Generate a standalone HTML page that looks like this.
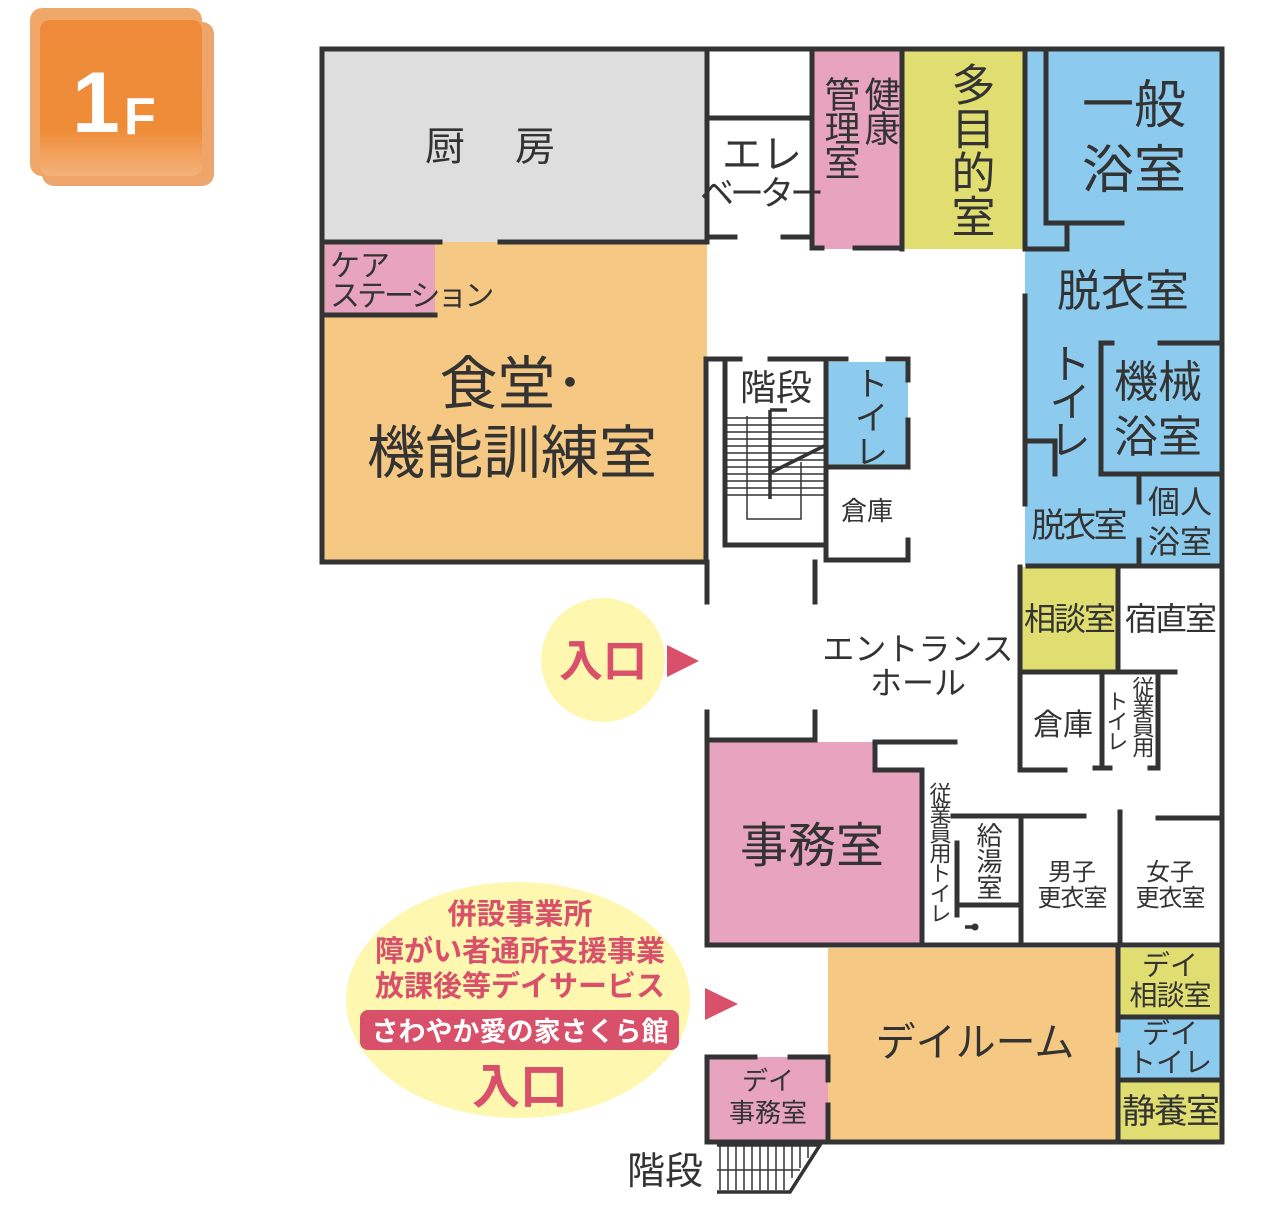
<!DOCTYPE html>
<html><head><meta charset="utf-8"><style>
html,body{margin:0;padding:0;background:#fff;}
svg{display:block;}
text{font-family:"Liberation Sans","Noto Sans CJK JP",sans-serif;fill:#333;}
.v{writing-mode:vertical-rl;}
</style></head><body>
<svg width="1268" height="1232" viewBox="0 0 1268 1232" xmlns="http://www.w3.org/2000/svg">
<defs>
<linearGradient id="og" x1="0" y1="0" x2="0" y2="1">
<stop offset="0" stop-color="#ee8a3a"/><stop offset="0.7" stop-color="#ef8c38"/><stop offset="1" stop-color="#f3b27a"/>
</linearGradient>
</defs>
<rect x="30" y="8" width="172" height="168" rx="12" fill="#f0a868"/>
<rect x="42" y="22" width="172" height="164" rx="12" fill="#eea56a"/>
<rect x="40" y="20" width="162" height="156" rx="10" fill="url(#og)"/>
<text x="72" y="132" font-size="86" font-weight="bold" style="fill:#fff">1</text>
<text x="124" y="134" font-size="52" font-weight="bold" style="fill:#fff">F</text>

<rect x="322" y="49" width="385" height="193" fill="#dedede"/>
<rect x="322" y="242" width="385" height="320" fill="#f5c983"/>
<rect x="325" y="244" width="110" height="71" fill="#e8a3bf"/>
<rect x="812" y="49" width="90" height="200" fill="#e8a3bf"/>
<rect x="902" y="49" width="123" height="200" fill="#e0de70"/>
<rect x="1025" y="49" width="197" height="517" fill="#8ccbee"/>
<rect x="826" y="362" width="82" height="105" fill="#8ccbee"/>
<rect x="1020" y="567" width="98" height="105" fill="#e0de70"/>
<rect x="707" y="742" width="168" height="203" fill="#e8a3bf"/>
<rect x="875" y="770" width="48" height="175" fill="#e8a3bf"/>
<rect x="828" y="948" width="290" height="194" fill="#f5c983"/>
<rect x="707" y="1057" width="121" height="85" fill="#e8a3bf"/>
<rect x="1118" y="948" width="104" height="69" fill="#e0de70"/>
<rect x="1118" y="1017" width="104" height="63" fill="#8ccbee"/>
<rect x="1118" y="1080" width="104" height="62" fill="#e0de70"/>

<g stroke="#333" stroke-width="5" fill="none" stroke-linecap="square">
<path d="M322 49 H1222 V1142 H707"/>
<path d="M322 49 V562 H707"/>
<path d="M707 49 V242"/>
<path d="M325 242 H440 M500 242 H707"/>
<path d="M325 315 H435"/>
<path d="M707 118 H812 M707 237 H735 M783 237 H812 M812 49 V246 M812 248 H822 M855 248 H902 M902 49 V249"/>
<path d="M1025 49 V249 M1046 49 V223 H1122 M1067 223 V249 H1025"/>
<path d="M1025 296 V504 M1101 343 V474 H1222 M1101 343 H1112 M1160 343 H1222 M1025 441 H1055 V474"/>
<path d="M1139 474 V502 M1139 540 V566 M1028 566 H1222"/>
<path d="M706 359 V562 M706 359 H740 M770 359 H846 M888 359 H908 V380 M908 420 V467 M826 359 V560 M826 467 H908 M908 540 V560 H826"/>
<path d="M725 359 V545 H826"/>
<path d="M707 562 V602 M815 562 V602"/>
<path d="M707 712 V945 M815 712 V740 H707 M875 742 H955 M875 742 V770 H922 V945"/>
<path d="M1020 567 V770 M1020 567 V672 M1118 567 V672 M1020 672 H1175 M1020 770 H1065 M1102 672 V768 M1095 768 H1110 M1158 672 V768 H1150"/>
<path d="M953 816 H1084 M1021 816 V945 M958 905 H1021 M957 843 V915 M1120 812 V945 M1158 818 H1222"/>
<path d="M707 945 H1222"/>
<path d="M1118 948 V1030 M1118 1050 V1142 M1118 1017 H1222 M1118 1080 H1222"/>
<path d="M707 1057 V1142 H828 M707 1057 H755 M790 1057 H828 V1080 M828 1105 V1142"/>
</g>
<g stroke="#333" stroke-width="1.5" fill="none">
<path d="M727 418H826M727 425H826M727 432H826M727 439H826M727 446H826M727 453H826M727 460H826M727 467H826M727 474H826M727 481H826M727 488H826M727 495H826"/>
<path d="M747 416 V519 H801 V462"/>
<path d="M720 1146 V1190 M728 1146 V1190 M736 1146 V1190 M744 1146 V1190 M752 1146 V1190 M760 1146 V1190 M768 1146 V1190 M776 1146 V1190 M784 1146 V1190 M792 1146 V1178 M800 1146 V1168 M808 1146 V1158"/>
<path d="M717 1170 H800"/>
</g>
<g stroke="#333" stroke-width="3.5" fill="none">
<path d="M770 410 H787 M770 410 V499 M770 473 L826 445"/>
<path d="M717 1145 H820 L790 1192 H717"/>
<path d="M965 927 H975"/>
</g>
<circle cx="975" cy="927" r="3.5" fill="#333"/>

<ellipse cx="603" cy="660" rx="62" ry="62" fill="#fdf7b0"/>
<text x="603" y="676" font-size="44" font-weight="bold" text-anchor="middle" style="fill:#d9506a">入口</text>
<polygon points="667,645 699,661 667,677" fill="#d9506a"/>
<ellipse cx="518" cy="1000" rx="172" ry="118" fill="#fdf7b0"/>
<text x="520" y="924" font-size="29" font-weight="bold" text-anchor="middle" style="fill:#d9506a">併設事業所</text>
<text x="520" y="961" font-size="29" font-weight="bold" text-anchor="middle" style="fill:#d9506a">障がい者通所支援事業</text>
<text x="520" y="996" font-size="29" font-weight="bold" text-anchor="middle" style="fill:#d9506a">放課後等デイサービス</text>
<rect x="360" y="1010" width="319" height="40" rx="8" fill="#d9506a"/>
<text x="520" y="1041" font-size="27" font-weight="bold" text-anchor="middle" style="fill:#fff">さわやか愛の家さくら館</text>
<text x="520" y="1103" font-size="48" font-weight="bold" text-anchor="middle" style="fill:#d9506a">入口</text>
<polygon points="705,988 738,1004 705,1020" fill="#d9506a"/>

<text x="515" y="160" font-size="40" text-anchor="middle" letter-spacing="50">厨房</text>
<text x="330" y="276" font-size="30">ケア</text>
<text x="330" y="306" font-size="30" letter-spacing="-3">ステーション</text>
<text x="512" y="404" font-size="58" text-anchor="middle">食堂･</text>
<text x="512" y="473" font-size="58" text-anchor="middle">機能訓練室</text>
<text x="762" y="168" font-size="40" text-anchor="middle">エレ</text>
<text x="760" y="205" font-size="34" text-anchor="middle" letter-spacing="-4">ベーター</text>
<text x="880" y="76" font-size="36" class="v" letter-spacing="-2">健康</text>
<text x="840" y="76" font-size="36" class="v" letter-spacing="-2">管理室</text>
<text x="969" y="62" font-size="44" class="v">多目的室</text>
<text x="1134" y="123" font-size="52" text-anchor="middle">一般</text>
<text x="1134" y="188" font-size="52" text-anchor="middle">浴室</text>
<text x="1123" y="306" font-size="44" text-anchor="middle">脱衣室</text>
<text x="1067" y="342" font-size="42" class="v" letter-spacing="-4">トイレ</text>
<text x="1158" y="397" font-size="44" text-anchor="middle">機械</text>
<text x="1158" y="452" font-size="44" text-anchor="middle">浴室</text>
<text x="1078" y="537" font-size="34" text-anchor="middle" letter-spacing="-3">脱衣室</text>
<text x="1180" y="513" font-size="32" text-anchor="middle">個人</text>
<text x="1180" y="553" font-size="32" text-anchor="middle">浴室</text>
<text x="776" y="400" font-size="36" text-anchor="middle">階段</text>
<text x="868" y="366" font-size="34" class="v">トイレ</text>
<text x="867" y="520" font-size="26" text-anchor="middle">倉庫</text>
<text x="918" y="660" font-size="32" text-anchor="middle">エントランス</text>
<text x="918" y="694" font-size="32" text-anchor="middle">ホール</text>
<text x="1069" y="630" font-size="32" text-anchor="middle" letter-spacing="-2">相談室</text>
<text x="1170" y="630" font-size="32" text-anchor="middle" letter-spacing="-2">宿直室</text>
<text x="1063" y="735" font-size="30" text-anchor="middle">倉庫</text>
<text x="1142" y="676" font-size="22" class="v" letter-spacing="-2">従業員用</text>
<text x="1116" y="690" font-size="22" class="v" letter-spacing="-2">トイレ</text>
<text x="812" y="862" font-size="48" text-anchor="middle">事務室</text>
<text x="939" y="782" font-size="22" class="v" letter-spacing="-2">従業員用トイレ</text>
<text x="988" y="822" font-size="26" class="v">給湯室</text>
<text x="1072" y="880" font-size="24" text-anchor="middle">男子</text>
<text x="1072" y="906" font-size="24" text-anchor="middle" letter-spacing="-1">更衣室</text>
<text x="1170" y="880" font-size="24" text-anchor="middle">女子</text>
<text x="1170" y="906" font-size="24" text-anchor="middle" letter-spacing="-1">更衣室</text>
<text x="975" y="1056" font-size="40" text-anchor="middle">デイルーム</text>
<text x="1170" y="975" font-size="28" text-anchor="middle">デイ</text>
<text x="1170" y="1005" font-size="28" text-anchor="middle" letter-spacing="-1">相談室</text>
<text x="1170" y="1043" font-size="28" text-anchor="middle">デイ</text>
<text x="1170" y="1072" font-size="28" text-anchor="middle">トイレ</text>
<text x="1170" y="1123" font-size="34" text-anchor="middle" letter-spacing="-2">静養室</text>
<text x="768" y="1090" font-size="26" text-anchor="middle">デイ</text>
<text x="768" y="1122" font-size="26" text-anchor="middle">事務室</text>
<text x="665" y="1184" font-size="38" text-anchor="middle">階段</text>
</svg>
</body></html>
